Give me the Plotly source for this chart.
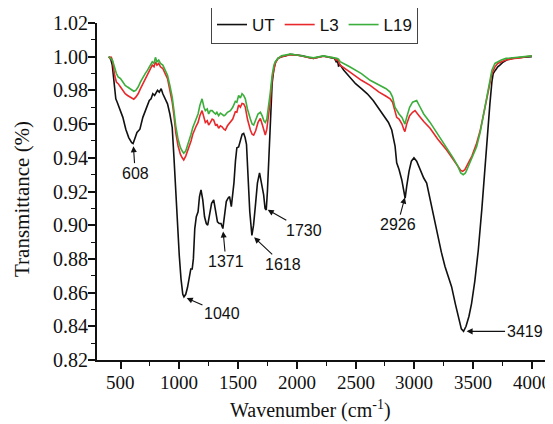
import numpy as np
import plotly.graph_objects as go

# ---------------- data ----------------
ut_wn = [400, 415, 430, 445, 460, 472, 490, 520, 545, 570, 595, 607, 620, 640, 665, 690, 712, 730, 745,
         760, 775, 790, 805, 815, 830, 846, 860, 880, 900, 920, 940, 955, 970, 985, 1000, 1015, 1030,
         1040, 1055, 1070, 1085, 1098, 1110, 1120, 1132, 1145, 1160, 1172, 1185, 1200, 1215, 1230,
         1242, 1258, 1275, 1293, 1310, 1325, 1340, 1355, 1371, 1385, 1400, 1415, 1428, 1443, 1455,
         1465, 1478, 1490, 1505, 1520, 1535, 1548, 1560, 1572, 1585, 1600, 1618, 1632, 1647, 1665,
         1683, 1700, 1718, 1730, 1740, 1750, 1766, 1778, 1790, 1805, 1820, 1840, 1870, 1900, 1945,
         2000, 2050, 2100, 2142, 2190, 2227, 2280, 2320, 2335, 2345, 2355, 2370, 2400, 2450, 2500,
         2550, 2600, 2650, 2700, 2740, 2780, 2808, 2825, 2836, 2850, 2870, 2893, 2910, 2922, 2935,
         2955, 2975, 2997, 3020, 3050, 3080, 3105, 3140, 3190, 3230, 3261, 3290, 3317, 3350, 3380,
         3400, 3419, 3440, 3465, 3487, 3515, 3544, 3575, 3601, 3625, 3643, 3660, 3671, 3690, 3710,
         3728, 3750, 3785, 3830, 3900, 3983, 4000]
ut_t = [1.000, 0.999, 0.995, 0.985, 0.975, 0.973, 0.970, 0.964, 0.957, 0.952, 0.949, 0.9485, 0.951,
        0.955, 0.957, 0.964, 0.968, 0.972, 0.974, 0.975, 0.978, 0.977, 0.979, 0.980, 0.979, 0.981,
        0.978, 0.975, 0.972, 0.966, 0.958, 0.940, 0.920, 0.898, 0.882, 0.868, 0.859, 0.8575, 0.859,
        0.863, 0.870, 0.874, 0.874, 0.880, 0.898, 0.905, 0.908, 0.917, 0.921, 0.915, 0.905, 0.901,
        0.900, 0.906, 0.913, 0.915, 0.909, 0.902, 0.901, 0.901, 0.898, 0.905, 0.914, 0.916, 0.917,
        0.911, 0.918, 0.925, 0.938, 0.946, 0.9465, 0.951, 0.954, 0.9545, 0.952, 0.948, 0.932, 0.908,
        0.894, 0.900, 0.911, 0.925, 0.931, 0.925, 0.918, 0.910, 0.909, 0.920, 0.945, 0.968, 0.984,
        0.993, 0.997, 0.999, 1.000, 1.0005, 1.0014, 1.001, 1.0005, 0.9995, 0.999, 0.9998, 1.0004,
        0.9995, 0.999, 0.997, 0.998, 0.9945, 0.995, 0.992, 0.988, 0.984, 0.981, 0.978, 0.974, 0.969,
        0.965, 0.961, 0.9565, 0.951, 0.947, 0.937, 0.933, 0.927, 0.920, 0.916, 0.923, 0.932, 0.938,
        0.940, 0.938, 0.933, 0.928, 0.925, 0.913, 0.896, 0.884, 0.8755, 0.869, 0.8635, 0.853, 0.844,
        0.8385, 0.837, 0.840, 0.846, 0.8535, 0.867, 0.885, 0.910, 0.935, 0.958, 0.972, 0.985, 0.990,
        0.992, 0.994, 0.995, 0.9965, 0.998, 0.999, 0.9995, 1.000, 1.000]

l3_wn = [400, 410, 420, 430, 440, 450, 465, 480, 500, 520, 540, 560, 580, 600, 613, 630, 650, 670, 690,
         710, 730, 750, 770, 785, 797, 810, 825, 840, 860, 880, 900, 920, 940, 955, 970, 990, 1010,
         1025, 1038, 1055, 1070, 1085, 1100, 1115, 1130, 1145, 1160, 1175, 1194, 1210, 1222, 1238,
         1250, 1265, 1280, 1293, 1310, 1320, 1335, 1350, 1364, 1380, 1392, 1410, 1435, 1455, 1477,
         1490, 1505, 1520, 1534, 1548, 1562, 1580, 1605, 1620, 1633, 1650, 1670, 1690, 1705, 1720,
         1732, 1745, 1760, 1775, 1790, 1805, 1817, 1840, 1870, 1945, 2000, 2100, 2142, 2227, 2320,
         2335, 2345, 2360, 2369, 2450, 2550, 2624, 2700, 2760, 2794, 2815, 2835, 2850, 2870, 2895,
         2910, 2920, 2935, 2960, 2985, 3006, 3040, 3080, 3134, 3200, 3275, 3330, 3370, 3395, 3411,
         3430, 3460, 3490, 3530, 3560, 3590, 3615, 3640, 3660, 3686, 3710, 3740, 3780, 3850, 3900,
         3950, 4000]
l3_t = [1.000, 0.999, 1.000, 0.998, 0.994, 0.989, 0.985, 0.984, 0.982, 0.980, 0.978, 0.977, 0.976,
        0.975, 0.9748, 0.976, 0.978, 0.981, 0.984, 0.987, 0.990, 0.993, 0.995, 0.994, 0.997, 0.995,
        0.996, 0.994, 0.993, 0.990, 0.987, 0.980, 0.973, 0.965, 0.955, 0.947, 0.942, 0.940, 0.9387,
        0.941, 0.944, 0.946, 0.950, 0.954, 0.957, 0.959, 0.961, 0.965, 0.968, 0.963, 0.961, 0.962,
        0.9594, 0.961, 0.963, 0.9624, 0.959, 0.960, 0.9575, 0.959, 0.9584, 0.957, 0.9565, 0.959,
        0.9614, 0.963, 0.9673, 0.967, 0.9713, 0.970, 0.9723, 0.972, 0.970, 0.963, 0.9565, 0.954,
        0.9535, 0.956, 0.961, 0.9634, 0.960, 0.956, 0.9535, 0.957, 0.966, 0.974, 0.987, 0.993, 0.996,
        0.999, 1.000, 1.0012, 1.001, 0.9995, 0.999, 1.0003, 0.9992, 0.998, 0.9985, 0.9965, 0.995,
        0.991, 0.986, 0.983, 0.979, 0.9765, 0.975, 0.973, 0.967, 0.964, 0.963, 0.960, 0.957, 0.9555,
        0.960, 0.965, 0.967, 0.968, 0.965, 0.9615, 0.9575, 0.951, 0.9446, 0.939, 0.935, 0.9325,
        0.932, 0.933, 0.937, 0.941, 0.9486, 0.956, 0.966, 0.974, 0.983, 0.990, 0.994, 0.996, 0.997,
        0.998, 0.999, 0.9992, 1.000, 1.0005]

l19_wn = [400, 410, 420, 430, 440, 450, 465, 480, 500, 520, 540, 560, 580, 600, 613, 630, 650, 670, 690,
          710, 730, 750, 770, 785, 797, 810, 825, 840, 860, 880, 900, 920, 940, 955, 970, 990, 1010,
          1025, 1038, 1055, 1070, 1085, 1100, 1115, 1130, 1145, 1160, 1175, 1194, 1210, 1222, 1238,
          1250, 1265, 1280, 1293, 1310, 1320, 1335, 1350, 1364, 1380, 1392, 1410, 1435, 1455, 1477,
          1490, 1505, 1520, 1534, 1548, 1562, 1580, 1605, 1620, 1633, 1650, 1670, 1690, 1705, 1720,
          1732, 1745, 1760, 1775, 1790, 1805, 1817, 1840, 1870, 1945, 2000, 2100, 2142, 2227, 2320,
          2340, 2355, 2369, 2450, 2550, 2624, 2700, 2760, 2794, 2815, 2835, 2850, 2870, 2895, 2910,
          2920, 2935, 2960, 2985, 3020, 3050, 3080, 3134, 3200, 3275, 3330, 3370, 3395, 3416, 3435,
          3460, 3490, 3530, 3560, 3590, 3615, 3640, 3660, 3686, 3710, 3740, 3780, 3850, 3950, 4000]
l19_t = [1.000, 0.9995, 0.999, 0.998, 0.996, 0.993, 0.990, 0.988, 0.987, 0.985, 0.983, 0.982, 0.981,
         0.980, 0.9795, 0.980, 0.982, 0.985, 0.988, 0.990, 0.992, 0.995, 0.997, 0.996, 0.9996, 0.997,
         0.998, 0.996, 0.995, 0.992, 0.989, 0.983, 0.976, 0.968, 0.959, 0.951, 0.946, 0.944, 0.9427,
         0.944, 0.947, 0.950, 0.954, 0.958, 0.961, 0.963, 0.966, 0.971, 0.975, 0.970, 0.968, 0.969,
         0.966, 0.968, 0.968, 0.967, 0.966, 0.967, 0.965, 0.9665, 0.966, 0.965, 0.9655, 0.967, 0.968,
         0.970, 0.9735, 0.973, 0.977, 0.9755, 0.978, 0.977, 0.975, 0.969, 0.963, 0.960, 0.9594,
         0.962, 0.966, 0.967, 0.965, 0.962, 0.961, 0.963, 0.970, 0.979, 0.989, 0.995, 0.997, 0.999,
         1.0005, 1.0015, 1.001, 1.000, 0.9993, 1.0005, 0.9995, 0.999, 0.9985, 0.997, 0.994, 0.990,
         0.986, 0.983, 0.981, 0.979, 0.976, 0.970, 0.968, 0.966, 0.964, 0.961, 0.960, 0.964, 0.970,
         0.973, 0.974, 0.970, 0.966, 0.961, 0.954, 0.9466, 0.940, 0.935, 0.931, 0.930, 0.931, 0.935,
         0.940, 0.9466, 0.955, 0.966, 0.976, 0.986, 0.992, 0.996, 0.997, 0.998, 0.999, 0.9995, 1.000,
         1.0005]

peak_wn = [608, 1040, 1371, 1618, 1730, 2926, 3419]
peak_labels = ["608", "1040", "1371", "1618", "1730", "2926", "3419"]

x_ticks = [500, 1000, 1500, 2000, 2500, 3000, 3500, 4000]
x_tick_labels = ["500", "1000", "1500", "2000", "2500", "3000", "3500", "4000"]
y_ticks = [0.82, 0.84, 0.86, 0.88, 0.90, 0.92, 0.94, 0.96, 0.98, 1.00, 1.02]
y_tick_labels = ["0.82", "0.84", "0.86", "0.88", "0.90", "0.92", "0.94", "0.96", "0.98", "1.00", "1.02"]

x_title = "Wavenumber (cm<sup>-1</sup>)"
y_title = "Transmittance (%)"

# ---------------- styling / layout ----------------
# page body has an 8px default margin, so the figure is sized to compensate
W, H = 545, 416
ML, MR, MT, MB = 89, 0, 15, 64
PW, PH = W - ML - MR, H - MT - MB
OFF = 8


def paper_xy(sx, sy):
    """screen pixel -> paper coordinates"""
    fx, fy = sx - OFF, sy - OFF
    return (fx - ML) / PW, (H - MB - fy) / PH


# text-centre offsets (px) from each arrow tip
label_offsets = [(2, 30), (38, 17), (3, 33), (31, 29), (39, 22), (-8, 30), (61, 0)]

SERIF = "Liberation Serif"
SANS = "Liberation Sans"
INK = "#111111"

fig = go.Figure()
fig.add_trace(go.Scatter(x=ut_wn, y=ut_t, mode="lines", name="UT",
                         line=dict(color=INK, width=1.6)))
fig.add_trace(go.Scatter(x=l3_wn, y=l3_t, mode="lines", name="L3",
                         line=dict(color="#e8282a", width=1.6)))
fig.add_trace(go.Scatter(x=l19_wn, y=l19_t, mode="lines", name="L19",
                         line=dict(color="#3cae3c", width=1.6)))

annotations = []
for wn, lab, (ax, ay) in zip(peak_wn, peak_labels, label_offsets):
    yv = float(np.interp(wn, ut_wn, ut_t))
    annotations.append(dict(
        x=wn, y=yv, xref="x", yref="y", text=lab, showarrow=True,
        ax=ax, ay=ay, arrowhead=2, arrowsize=1.1, arrowwidth=1.1,
        arrowcolor=INK, standoff=3,
        font=dict(family=SANS, size=16, color=INK)))

# tick labels (serif), positioned on the axes' own scales
for v, lab in zip(x_ticks, x_tick_labels):
    annotations.append(dict(
        x=v, y=0, xref="x", yref="paper", text=lab, showarrow=False,
        xanchor="center", yanchor="top", yshift=-10,
        font=dict(family=SERIF, size=19, color=INK)))
for v, lab in zip(y_ticks, y_tick_labels):
    annotations.append(dict(
        x=0, y=v, xref="paper", yref="y", text=lab, showarrow=False,
        xanchor="right", yanchor="middle", xshift=-7,
        font=dict(family=SERIF, size=20, color=INK)))

tx, ty = paper_xy(310, 409)
annotations.append(dict(
    x=tx, y=ty, xref="paper", yref="paper",
    xanchor="center", yanchor="middle", text=x_title, showarrow=False,
    font=dict(family=SERIF, size=20, color=INK)))
tx, ty = paper_xy(22, 199)
annotations.append(dict(
    x=tx, y=ty, xref="paper", yref="paper",
    xanchor="center", yanchor="middle", text=y_title, showarrow=False, textangle=-90,
    font=dict(family=SERIF, size=21, color=INK)))

lx, ly = paper_xy(211, 6)

fig.update_layout(
    width=W, height=H,
    margin=dict(l=ML, r=MR, t=MT, b=MB, autoexpand=False),
    paper_bgcolor="white", plot_bgcolor="white",
    font=dict(family=SERIF, size=19, color=INK),
    showlegend=True,
    legend=dict(orientation="h", x=lx, y=ly, xanchor="left", yanchor="top",
                bordercolor="#444444", borderwidth=1, bgcolor="white",
                font=dict(family=SANS, size=17, color=INK),
                tracegroupgap=0, itemwidth=30),
    annotations=annotations,
)

fig.update_xaxes(
    range=[300, 4180], tickvals=x_ticks, showticklabels=False,
    automargin=False,
    showline=True, linecolor=INK, linewidth=1.5,
    ticks="outside", ticklen=7, tickwidth=1.5, tickcolor=INK,
    minor=dict(dtick=250, tick0=0, ticks="outside", ticklen=4, tickwidth=1.2, tickcolor=INK),
    showgrid=False, zeroline=False,
)
fig.update_yaxes(
    range=[0.82, 1.02], tickvals=y_ticks, showticklabels=False,
    automargin=False,
    showline=True, linecolor=INK, linewidth=1.5,
    ticks="outside", ticklen=7, tickwidth=1.5, tickcolor=INK,
    minor=dict(dtick=0.01, tick0=0.82, ticks="outside", ticklen=4, tickwidth=1.2, tickcolor=INK),
    showgrid=False, zeroline=False,
)

fig.write_html("out.html")
